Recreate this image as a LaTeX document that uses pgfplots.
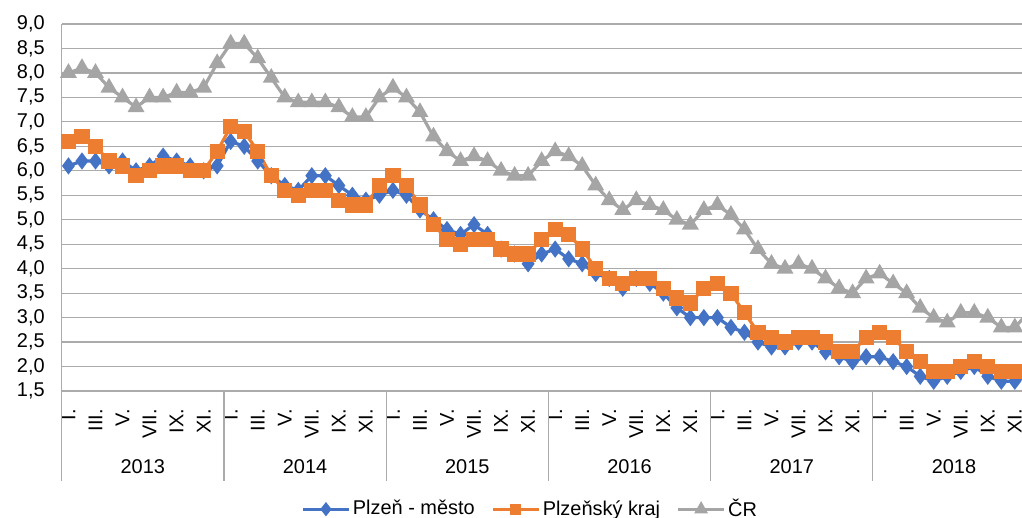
\documentclass[border=0pt]{standalone}
\usepackage{fontspec}
\setmainfont{Liberation Sans}
\usepackage{pgfplots}
\usepackage{pgfplotstable}
\pgfplotsset{compat=1.18}
\definecolor{cBlue}{HTML}{4472C4}
\definecolor{cOrange}{HTML}{ED7D31}
\definecolor{cGray}{HTML}{A5A5A5}
\definecolor{cGrid}{HTML}{ABABAB}

\pgfplotstableread{
m mesto kraj cr
0 6.1 6.6 8.0
1 6.2 6.7 8.1
2 6.2 6.5 8.0
3 6.1 6.2 7.7
4 6.2 6.1 7.5
5 6.0 5.9 7.3
6 6.1 6.0 7.5
7 6.3 6.1 7.5
8 6.2 6.1 7.6
9 6.1 6.0 7.6
10 6.0 6.0 7.7
11 6.1 6.4 8.2
12 6.6 6.9 8.6
13 6.5 6.8 8.6
14 6.2 6.4 8.3
15 5.9 5.9 7.9
16 5.7 5.6 7.5
17 5.6 5.5 7.4
18 5.9 5.6 7.4
19 5.9 5.6 7.4
20 5.7 5.4 7.3
21 5.5 5.3 7.1
22 5.4 5.3 7.1
23 5.5 5.7 7.5
24 5.6 5.9 7.7
25 5.5 5.7 7.5
26 5.2 5.3 7.2
27 5.0 4.9 6.7
28 4.8 4.6 6.4
29 4.7 4.5 6.2
30 4.9 4.6 6.3
31 4.7 4.6 6.2
32 4.4 4.4 6.0
33 4.3 4.3 5.9
34 4.1 4.3 5.9
35 4.3 4.6 6.2
36 4.4 4.8 6.4
37 4.2 4.7 6.3
38 4.1 4.4 6.1
39 3.9 4.0 5.7
40 3.8 3.8 5.4
41 3.6 3.7 5.2
42 3.8 3.8 5.4
43 3.7 3.8 5.3
44 3.5 3.6 5.2
45 3.2 3.4 5.0
46 3.0 3.3 4.9
47 3.0 3.6 5.2
48 3.0 3.7 5.3
49 2.8 3.5 5.1
50 2.7 3.1 4.8
51 2.5 2.7 4.4
52 2.4 2.6 4.1
53 2.4 2.5 4.0
54 2.5 2.6 4.1
55 2.5 2.6 4.0
56 2.3 2.5 3.8
57 2.2 2.3 3.6
58 2.1 2.3 3.5
59 2.2 2.6 3.8
60 2.2 2.7 3.9
61 2.1 2.6 3.7
62 2.0 2.3 3.5
63 1.8 2.1 3.2
64 1.7 1.9 3.0
65 1.8 1.9 2.9
66 1.9 2.0 3.1
67 2.0 2.1 3.1
68 1.8 2.0 3.0
69 1.7 1.9 2.8
70 1.7 1.9 2.8
71 1.8 2.1 3.1
}\datatable

\begin{document}
\begin{tikzpicture}
\begin{axis}[
  at={(30.85bp,63.5bp)}, anchor=south west,
  scale only axis,
  width=480.15bp, height=183.5bp,
  xmin=-0.5, xmax=70.53,
  ymin=1.5, ymax=9.0,
  ytick distance=0.5,
  axis x line*=bottom, axis y line*=left,
  axis line style={cGrid, line width=0.6bp},
  ymajorgrids,
  grid style={cGrid, line width=0.6bp},
  major tick length=0pt,
  yticklabel style={font=\fontsize{10}{12}\selectfont, xshift=-5bp},
  y tick label style={/pgf/number format/fixed, /pgf/number format/fixed zerofill, /pgf/number format/precision=1, /pgf/number format/use comma, /pgf/number format/assume math mode=true},
  xtick={0,2,...,70},
  xticklabels={I.,III.,V.,VII.,IX.,XI.,I.,III.,V.,VII.,IX.,XI.,I.,III.,V.,VII.,IX.,XI.,I.,III.,V.,VII.,IX.,XI.,I.,III.,V.,VII.,IX.,XI.,I.,III.,V.,VII.,IX.,XI.},
  xticklabel style={font=\fontsize{10}{12}\selectfont, rotate=90, anchor=east, xshift=-5.5bp},
  extra x ticks={-0.5,11.5,23.5,35.5,47.5,59.5},
  extra x tick labels={},
  extra x tick style={major tick length=45bp, tick align=outside, grid=none, tick style={draw=cGrid, line width=0.6bp}},
  legend style={draw=none, fill=none, at={(0.488,-0.322)}, anchor=center, legend columns=3,
    font=\fontsize{10}{12}\selectfont,
    nodes={inner xsep=1.2bp},
    /tikz/every even column/.append style={column sep=7bp}},
  legend cell align=left,
]
\addplot[cBlue, line width=1.6bp, mark=diamond*, mark size=3bp, mark options={solid},
  legend image code/.code={%
    \draw[cBlue, line width=1.6bp] (0bp,0bp) -- (23bp,0bp);
    \fill[cBlue] (11.5bp,2.3bp) -- (13.3bp,0bp) -- (11.5bp,-2.3bp) -- (9.7bp,0bp) -- cycle;}]
  table[x=m, y=mesto] {\datatable};
\addlegendentry{Plzeň - město}
\addplot[cOrange, line width=1.6bp, mark=square*, mark size=3bp, mark options={solid},
  legend image code/.code={%
    \draw[cOrange, line width=1.6bp] (0bp,0bp) -- (23bp,0bp);
    \fill[cOrange] (9.5bp,-2bp) rectangle (13.5bp,2bp);}]
  table[x=m, y=kraj] {\datatable};
\addlegendentry{Plzeňský kraj}
\addplot[cGray, line width=1.6bp, mark=triangle*, mark size=3.3bp, mark options={solid},
  legend image code/.code={%
    \draw[cGray, line width=1.6bp] (0bp,0bp) -- (23bp,0bp);
    \fill[cGray] (11.5bp,2.4bp) -- (13.6bp,-1.3bp) -- (9.4bp,-1.3bp) -- cycle;}]
  table[x=m, y=cr] {\datatable};
\addlegendentry{ČR}
\coordinate (y1) at (axis cs:5.5,1.5);
\coordinate (y2) at (axis cs:17.5,1.5);
\coordinate (y3) at (axis cs:29.5,1.5);
\coordinate (y4) at (axis cs:41.5,1.5);
\coordinate (y5) at (axis cs:53.5,1.5);
\coordinate (y6) at (axis cs:65.5,1.5);
\end{axis}
\foreach \c/\t in {y1/2013,y2/2014,y3/2015,y4/2016,y5/2017,y6/2018}{
  \node[font=\fontsize{10}{12}\selectfont] at ([yshift=-38bp]\c) {\t};
}
\pgfresetboundingbox
\path[use as bounding box] (0,0) rectangle (511bp,259bp);
\end{tikzpicture}
\end{document}
